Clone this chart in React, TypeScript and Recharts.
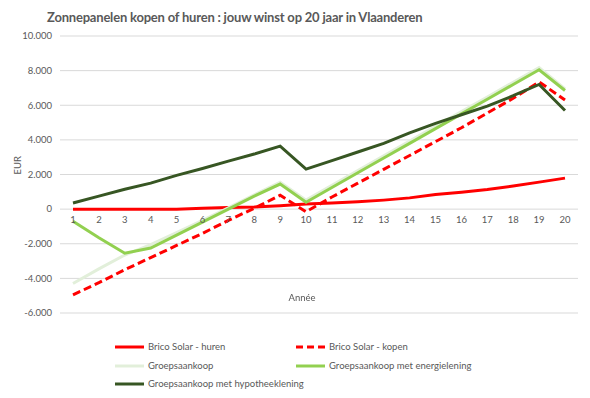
import { CartesianGrid, LabelList, Line, LineChart, XAxis, YAxis } from "recharts";

const years = ["1", "2", "3", "4", "5", "6", "7", "8", "9", "10", "11", "12", "13", "14", "15", "16", "17", "18", "19", "20"];
const bricoHuren = [0, 0, 0, 0, 0, 50, 90, 120, 200, 300, 350, 420, 520, 650, 850, 980, 1130, 1330, 1560, 1790];
const bricoKopen = [-4950, -4250, -3500, -2800, -2100, -1400, -650, 50, 800, -150, 700, 1500, 2300, 3100, 3900, 4700, 5550, 6400, 7350, 6300];
const groep = [-4300, -3450, -2650, -2050, -1350, -650, 80, 830, 1550, 520, 1380, 2230, 3080, 3930, 4780, 5630, 6480, 7330, 8180, 6950];
const groepEnergie = [-700, -1650, -2550, -2250, -1500, -750, 0, 750, 1450, 400, 1250, 2100, 2950, 3800, 4650, 5500, 6350, 7200, 8050, 6850];
const groepHypo = [350, 750, 1150, 1500, 1950, 2350, 2770, 3180, 3640, 2310, 2800, 3300, 3800, 4400, 4950, 5450, 5950, 6550, 7200, 5700];
const yTicks = [-6000, -4000, -2000, 0, 2000, 4000, 6000, 8000, 10000];

const rows = years.map((year, i) => ({
  year,
  zero: 0,
  huren: bricoHuren[i],
  kopen: bricoKopen[i],
  groep: groep[i],
  energie: groepEnergie[i],
  hypo: groepHypo[i]
}));

const font = "Lato, 'Open Sans', sans-serif";
const text = "#595959";
const red = "#ff0000";
const pale = "#e2efda";
const green = "#92d050";
const dark = "#375623";

const legendItems = [
  { name: "Brico Solar - huren", color: red, dash: false, left: 115, top: 341 },
  { name: "Brico Solar - kopen", color: red, dash: true, left: 296, top: 341 },
  { name: "Groepsaankoop", color: pale, dash: false, left: 115, top: 360 },
  { name: "Groepsaankoop met energielening", color: green, dash: false, left: 296, top: 360 },
  { name: "Groepsaankoop met hypotheeklening", color: dark, dash: false, left: 115, top: 378 }
];

const fmt = (v: number) => v.toLocaleString("de-DE");

export default function App() {
  return (
    <div style={{ position: "fixed", left: 0, top: 0, width: 590, height: 398, background: "#fff", fontFamily: font }}>
      <div style={{ position: "absolute", left: 47, top: 9, fontSize: 13, letterSpacing: -0.2, fontWeight: 700, color: text, whiteSpace: "nowrap" }}>
        Zonnepanelen kopen of huren : jouw winst op 20 jaar in Vlaanderen
      </div>
      <LineChart width={590} height={398} data={rows} margin={{ top: 36, right: 12, bottom: 85, left: 0 }}>
        <CartesianGrid stroke="#d9d9d9" vertical={false} />
        <XAxis dataKey="year" hide padding={{ left: 13, right: 13 }} />
        <YAxis
          domain={[-6000, 10000]}
          ticks={yTicks}
          tickFormatter={fmt}
          width={60}
          axisLine={false}
          tickLine={false}
          tickSize={0}
          tickMargin={8}
          tick={{ fill: text, fontSize: 9.5, fontFamily: font }}
          label={{ value: "EUR", angle: -90, position: "insideLeft", offset: 18, fill: text, fontSize: 9.5, fontFamily: font }}
        />
        <Line dataKey="zero" stroke="none" dot={false} legendType="none" isAnimationActive={false}>
          <LabelList dataKey="year" position="bottom" offset={7} fill={text} fontSize={9.5} fontFamily={font} />
        </Line>
        <Line dataKey="huren" stroke={red} strokeWidth={3} dot={false} isAnimationActive={false} />
        <Line dataKey="groep" stroke={pale} strokeWidth={3} dot={false} isAnimationActive={false} />
        <Line dataKey="energie" stroke={green} strokeWidth={3} dot={false} isAnimationActive={false} />
        <Line dataKey="kopen" stroke={red} strokeWidth={3} strokeDasharray="8 4" dot={false} isAnimationActive={false} />
        <Line dataKey="hypo" stroke={dark} strokeWidth={3} dot={false} isAnimationActive={false} />
      </LineChart>
      <div style={{ position: "absolute", left: 0, width: 604, top: 292, textAlign: "center", fontSize: 9.5, color: text }}>Année</div>
      {legendItems.map((item) => (
        <div key={item.name} style={{ position: "absolute", left: item.left, top: item.top, display: "flex", alignItems: "center", fontSize: 9.5, color: text, whiteSpace: "nowrap" }}>
          <svg width={30} height={4} style={{ marginRight: 3 }}>
            <line x1={0} y1={2} x2={29} y2={2} stroke={item.color} strokeWidth={3} strokeDasharray={item.dash ? "7 4" : undefined} />
          </svg>
          {item.name}
        </div>
      ))}
    </div>
  );
}
